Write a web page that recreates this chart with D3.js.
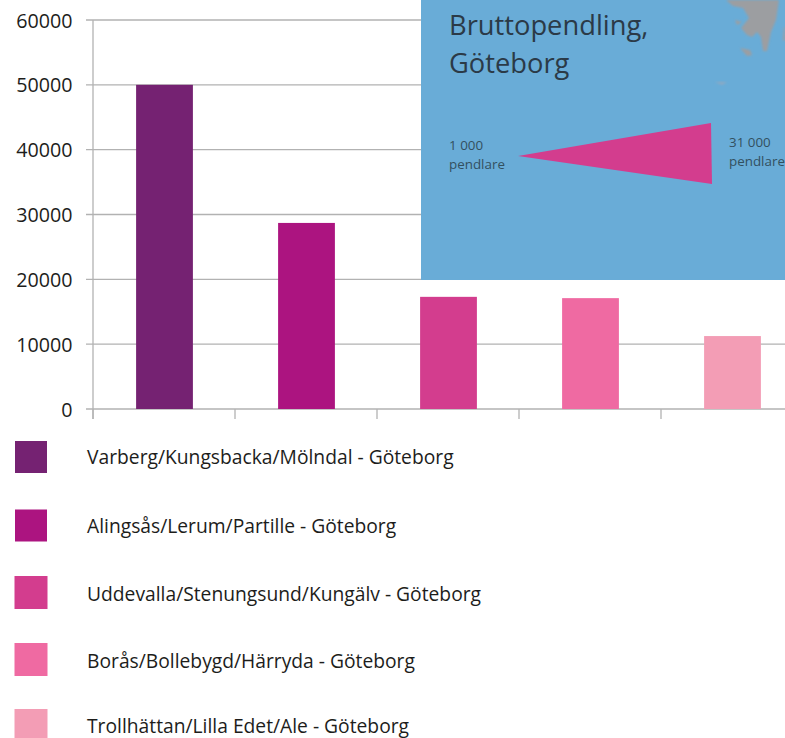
<!DOCTYPE html>
<html><head><meta charset="utf-8">
<script src="https://cdn.jsdelivr.net/npm/d3@7"></script>
<style>html,body{margin:0;padding:0;background:#fff}svg{display:block}text{font-family:"Open Sans",sans-serif}</style>
</head><body><svg id="c" width="785" height="738"></svg>
<script>
const categories=["Varberg/Kungsbacka/Mölndal - Göteborg","Alingsås/Lerum/Partille - Göteborg","Uddevalla/Stenungsund/Kungälv - Göteborg","Borås/Bollebygd/Härryda - Göteborg","Trollhättan/Lilla Edet/Ale - Göteborg"];
const values=[50000,28700,17300,17100,11250];
const colors=["#752272","#ac1480","#d33d8e","#ef6aa2","#f39db5"];
const yTicks=[0,10000,20000,30000,40000,50000,60000];
const insetTitle=["Bruttopendling,","Göteborg"];
const insetLeft=["1 000","pendlare"];
const insetRight=["31 000","pendlare"];
const legendY=[441,509.5,576,643,709];
const legendBase=[463.5,533,600.5,668,733];

const svg=d3.select("#c");
const y=d3.scaleLinear().domain([0,60000]).range([409,20]);
const x=d3.scaleBand().domain(categories).range([93.5,803.5]).paddingInner(0.6).paddingOuter(0.3);
const axisC="#b2b2b2";
svg.append("defs").append("filter").attr("id","soft").append("feGaussianBlur").attr("stdDeviation",0.8);
svg.append("g").selectAll("line").data(yTicks).join("line")
 .attr("x1",86).attr("x2",785).attr("y1",d=>y(d)).attr("y2",d=>y(d))
 .attr("stroke",axisC).attr("stroke-width",1.3);
svg.append("line").attr("x1",93).attr("x2",93).attr("y1",y(60000)).attr("y2",419).attr("stroke",axisC).attr("stroke-width",1.3);
const step=x.step();
svg.append("g").selectAll("line").data(categories).join("line")
 .attr("x1",d=>x(d)+x.bandwidth()/2-step/2-0.5).attr("x2",d=>x(d)+x.bandwidth()/2-step/2-0.5)
 .attr("y1",409).attr("y2",419).attr("stroke",axisC).attr("stroke-width",1.3);
svg.append("g").selectAll("text").data(yTicks).join("text")
 .attr("x",72.5).attr("y",d=>y(d)+7.5).attr("text-anchor","end")
 .attr("font-size",19.7).attr("fill","#1d1d1b").text(d=>d);
svg.append("g").selectAll("rect").data(categories).join("rect")
 .attr("x",d=>x(d)).attr("width",x.bandwidth())
 .attr("y",(d,i)=>y(values[i])).attr("height",(d,i)=>y(0)-y(values[i]))
 .attr("fill",(d,i)=>colors[i]);
const g=svg.append("g");
g.append("rect").attr("x",421).attr("y",0).attr("width",364).attr("height",280).attr("fill","#69acd7");
const land=g.append("g").attr("fill","#9c9ea1").attr("filter","url(#soft)");
land.append("path").attr("d","M726,0L779,0L776,20L771,32L767,51L763,51L761,37L757,32L752,37L747,35L741,28L749,18L743,8L733,6Z");
land.append("path").attr("d","M735,20L742,22L737,25Z");
land.append("path").attr("d","M740,48L750,50L752,55L747,56Z");
land.append("path").attr("d","M784,27L785,27L785,41L783,40Z");
g.append("path").attr("fill","#8ea9c2").attr("filter","url(#soft)").attr("d","M715,82L727,82L722,85Z");
g.selectAll("text.t").data(insetTitle).join("text").attr("class","t")
 .attr("x",449).attr("y",(d,i)=>35+i*38).attr("font-size",27.3).attr("fill","#2b3a47").text(d=>d);
g.selectAll("text.l").data(insetLeft).join("text").attr("class","l")
 .attr("x",449).attr("y",(d,i)=>150+i*19).attr("font-size",13.4).attr("fill","#33505f").text(d=>d);
g.selectAll("text.r").data(insetRight).join("text").attr("class","r")
 .attr("x",729).attr("y",(d,i)=>147+i*19).attr("font-size",13.4).attr("fill","#33505f").text(d=>d);
g.append("path").attr("fill","#d33d8e").attr("d","M518,156L711,123L712,184Z");
const lg=svg.append("g");
lg.selectAll("rect").data(categories).join("rect")
 .attr("x",(d,i)=>i<2?15:14.5).attr("width",(d,i)=>i<2?32:33).attr("height",(d,i)=>i<2?32:33).attr("y",(d,i)=>legendY[i]).attr("fill",(d,i)=>colors[i]);
lg.selectAll("text").data(categories).join("text")
 .attr("x",87).attr("y",(d,i)=>legendBase[i]).attr("font-size",19.25).attr("fill","#1d1d1b").text(d=>d);
</script></body></html>
